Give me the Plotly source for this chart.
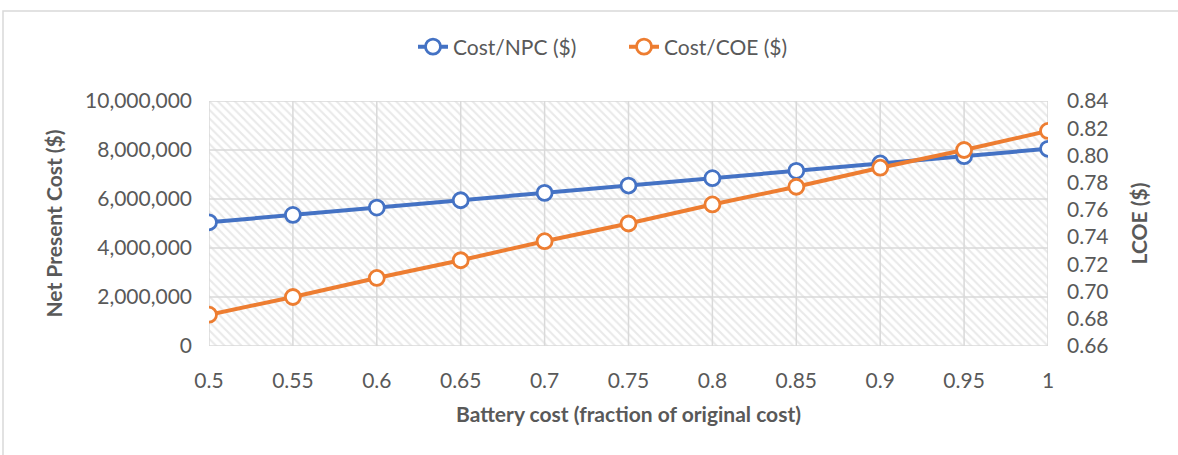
import plotly.graph_objects as go

# Battery cost sensitivity: net present cost and levelised cost of energy
battery_fraction = [0.5, 0.55, 0.6, 0.65, 0.7, 0.75, 0.8, 0.85, 0.9, 0.95, 1.0]
x_tick_labels = ["0.5", "0.55", "0.6", "0.65", "0.7", "0.75", "0.8", "0.85", "0.9", "0.95", "1"]
npc_values = [5050000, 5350000, 5650000, 5950000, 6250000, 6550000,
              6850000, 7150000, 7450000, 7750000, 8050000]
coe_values = [0.683, 0.696, 0.710, 0.723, 0.737, 0.750,
              0.764, 0.777, 0.791, 0.804, 0.818]
npc_ticks = [0, 2000000, 4000000, 6000000, 8000000, 10000000]

X_RANGE = [0.5, 1.0]
NPC_RANGE = [0, 10000000]
COE_RANGE = [0.66, 0.84]

BLUE = "#4472C4"
ORANGE = "#ED7D31"
GRID = "#D9D9D9"
TEXT = "#595959"
FONT = "Lato"
FS = 21

fig = go.Figure()

# Hatched plot-area background
fig.add_trace(go.Scatter(
    x=[X_RANGE[0], X_RANGE[1], X_RANGE[1], X_RANGE[0], X_RANGE[0]],
    y=[NPC_RANGE[0], NPC_RANGE[0], NPC_RANGE[1], NPC_RANGE[1], NPC_RANGE[0]],
    mode="none", fill="toself", fillcolor="white",
    fillpattern=dict(shape="\\", fgcolor="#D4D4D4", bgcolor="white", size=6, solidity=0.35),
    showlegend=False, hoverinfo="skip",
))

# Gridlines drawn over the hatching (vertical at each x tick, horizontal at each NPC tick)
gx, gy = [], []
for xv in battery_fraction:
    gx += [xv, xv, None]
    gy += [NPC_RANGE[0], NPC_RANGE[1], None]
for yv in npc_ticks:
    gx += [X_RANGE[0], X_RANGE[1], None]
    gy += [yv, yv, None]
fig.add_trace(go.Scatter(
    x=gx, y=gy, mode="lines", line=dict(color=GRID, width=1.5),
    showlegend=False, hoverinfo="skip",
))

fig.add_trace(go.Scatter(
    x=battery_fraction, y=npc_values, name="Cost/NPC ($)",
    mode="lines+markers",
    line=dict(color=BLUE, width=4),
    marker=dict(symbol="circle", size=15, color="white", line=dict(color=BLUE, width=2.8)),
))
fig.add_trace(go.Scatter(
    x=battery_fraction, y=coe_values, name="Cost/COE ($)", yaxis="y2",
    mode="lines+markers",
    line=dict(color=ORANGE, width=4),
    marker=dict(symbol="circle", size=15, color="white", line=dict(color=ORANGE, width=2.8)),
))

ml, mr, mt, mb = 209, 130, 101, 109
W, H = 1178, 455
pw, ph = W - ml - mr, H - mt - mb

fig.update_layout(
    width=W, height=H,
    margin=dict(l=ml, r=mr, t=mt, b=mb),
    paper_bgcolor="white", plot_bgcolor="white",
    font=dict(family=FONT, color=TEXT, size=FS),
    legend=dict(orientation="h", x=(413 - ml) / pw, xanchor="left",
                y=1.0 + 54 / ph, yanchor="middle", entrywidth=166, entrywidthmode="pixels",
                font=dict(size=FS, color=TEXT), traceorder="normal"),
    xaxis=dict(
        range=X_RANGE, tickvals=battery_fraction, ticktext=x_tick_labels,
        showgrid=False, showline=False, zeroline=False, ticks="",
        ticklabelstandoff=20, tickfont=dict(size=FS, color=TEXT),
        title=dict(text="<b>Battery cost (fraction of original cost)</b>",
                   font=dict(size=FS, color=TEXT), standoff=16),
    ),
    yaxis=dict(
        range=NPC_RANGE, tickvals=npc_ticks, tickformat=",d",
        showgrid=False, zeroline=False, ticks="",
        ticklabelstandoff=16, tickfont=dict(size=FS, color=TEXT),
        title=dict(text="<b>Net Present Cost ($)</b>", font=dict(size=FS, color=TEXT), standoff=16),
    ),
    yaxis2=dict(
        range=COE_RANGE, dtick=0.02, tickformat=".2f",
        overlaying="y", side="right", showgrid=False, zeroline=False,
        ticks="", ticklabelstandoff=18, tickfont=dict(size=FS, color=TEXT),
        title=dict(text="<b>LCOE ($)</b>", font=dict(size=FS, color=TEXT), standoff=24),
    ),
    shapes=[dict(
        type="rect", xref="paper", yref="paper",
        x0=(3 - ml) / pw, x1=(W + 5 - ml) / pw,
        y0=(mb - H - 5) / ph, y1=(H - 11 - mb) / ph,
        line=dict(color=GRID, width=1.5), fillcolor="rgba(0,0,0,0)", layer="below",
    )],
)

fig.write_html("out.html")
